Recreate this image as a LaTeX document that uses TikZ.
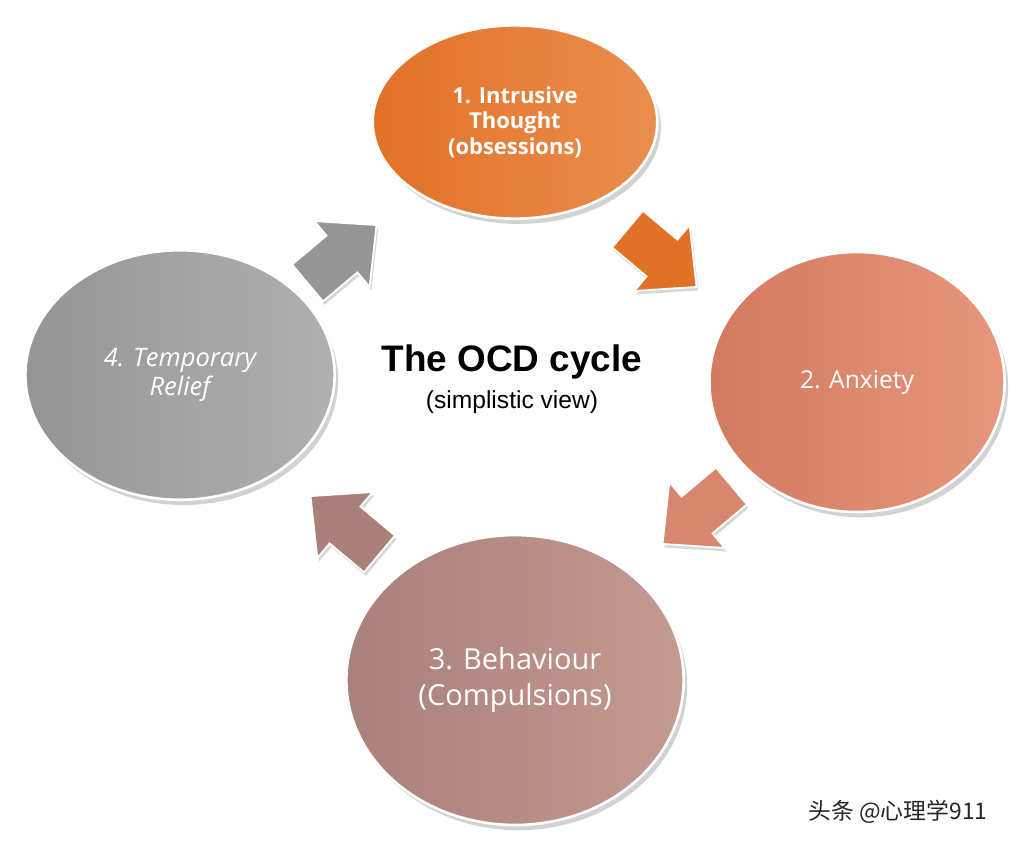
\documentclass[tikz,border=0pt]{standalone}
\usepackage{fontspec}
\setmainfont{Open Sans}
\newfontfamily\heros{Liberation Sans}
\newfontfamily\cjk{Noto Sans CJK SC}
\usetikzlibrary{shapes.geometric,shadows}
\definecolor{c1a}{HTML}{E27128}\definecolor{c1b}{HTML}{EA8E4E}
\definecolor{c2a}{HTML}{D27A60}\definecolor{c2b}{HTML}{E6977C}
\definecolor{c3a}{HTML}{A9807A}\definecolor{c3b}{HTML}{C49A92}
\definecolor{c4a}{HTML}{959595}\definecolor{c4b}{HTML}{B0B0B0}
\tikzset{
 disc/.style={ellipse,draw=white,line width=1.5pt,text=white,align=center,
   drop shadow={shadow xshift=2pt,shadow yshift=-3pt,opacity=0.35}},
 blk/.style={draw=white,line width=1pt,drop shadow={shadow xshift=1pt,shadow yshift=-2pt,opacity=0.3}},
 pics/fat/.style={code={\path[blk,pic actions] (-45,-24) -- (0,-24) -- (0,-43) -- (45,0) -- (0,43) -- (0,24) -- (-45,24) -- cycle;}}
}
\begin{document}
\begin{tikzpicture}[x=0.02cm,y=-0.02cm]
\useasboundingbox[fill=white] (0,0) rectangle (1024,850);
\node[disc,minimum width=162pt,minimum height=110pt,left color=c1a,right color=c1b,font=\bfseries\fontsize{12.5}{14.5}\selectfont] (n1) at (515,122) {1. Intrusive\\Thought\\(obsessions)};
\node[disc,minimum width=168pt,minimum height=148pt,left color=c2a,right color=c2b,font=\fontsize{14}{16}\selectfont] (n2) at (857,382) {2. Anxiety};
\node[disc,minimum width=192pt,minimum height=165pt,left color=c3a,right color=c3b,font=\fontsize{16.5}{20}\selectfont] (n3) at (515,680) {3. Behaviour\\(Compulsions)};
\node[disc,minimum width=176pt,minimum height=142pt,left color=c4a,right color=c4b,font=\itshape\fontsize{14.5}{17}\selectfont] (n4) at (180,375) {4. Temporary\\Relief};
\coordinate (a1) at (662,258);
\coordinate (a2) at (697,515);
\coordinate (a3) at (345,525);
\coordinate (a4) at (342,254);
\pic[fill=c1a,rotate=-40] at (a1) {fat};
\pic[fill=c2a!90!white,rotate=-140] at (a2) {fat};
\pic[fill=c3a,rotate=140] at (a3) {fat};
\pic[fill=c4a,rotate=40] at (a4) {fat};
\node[font=\heros\bfseries\fontsize{21}{24}\selectfont] (t) at (512,362) {The OCD cycle};
\node[font=\heros\fontsize{14}{16}\selectfont] (s) at (512,402) {(simplistic view)};
\node[font=\cjk\fontsize{13}{15}\selectfont,text=black!85] (w) at (898,812) {头条 @心理学911};
\end{tikzpicture}
\end{document}
